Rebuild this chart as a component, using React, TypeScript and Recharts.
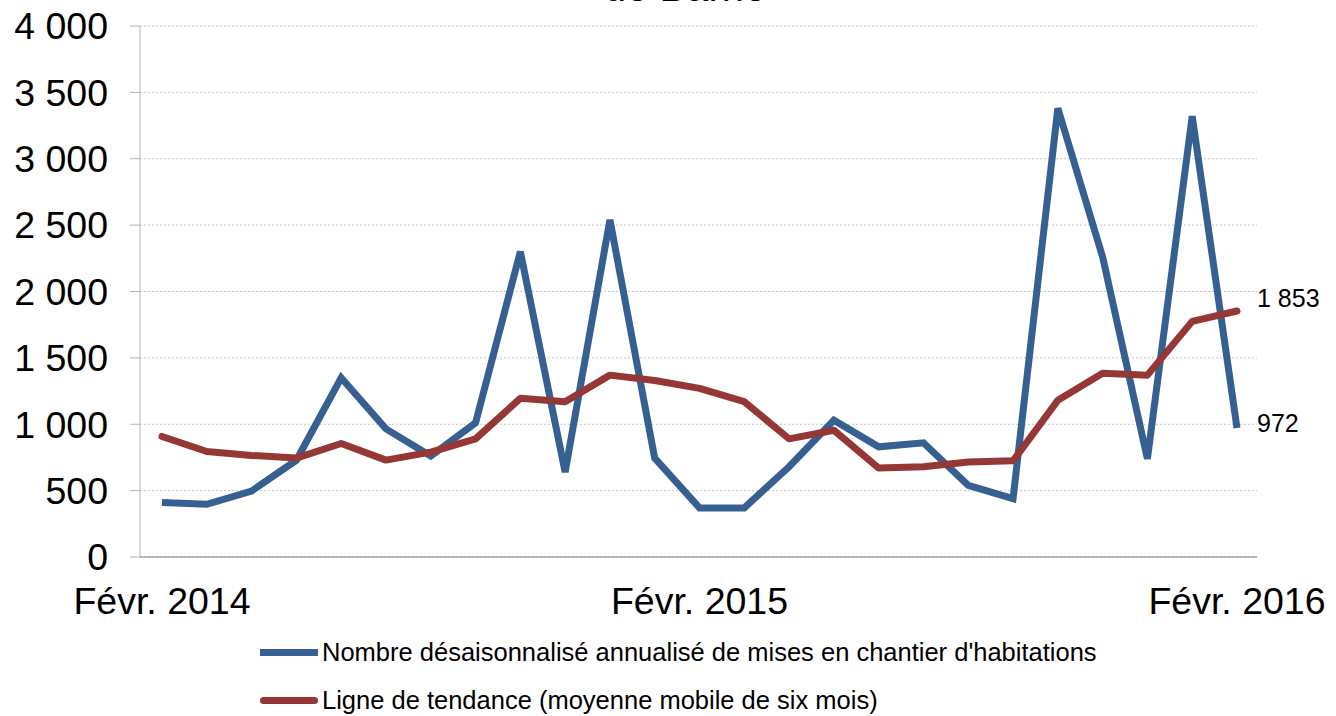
import React from "react";
import { CartesianGrid, LabelList, Line, LineChart, XAxis, YAxis } from "recharts";

const months = [
  "Févr. 2014", "Mars 2014", "Avr. 2014", "Mai 2014", "Juin 2014", "Juil. 2014", "Août 2014",
  "Sept. 2014", "Oct. 2014", "Nov. 2014", "Déc. 2014", "Janv. 2015",
  "Févr. 2015", "Mars 2015", "Avr. 2015", "Mai 2015", "Juin 2015", "Juil. 2015", "Août 2015",
  "Sept. 2015", "Oct. 2015", "Nov. 2015", "Déc. 2015", "Janv. 2016", "Févr. 2016",
];

// mises en chantier désaisonnalisées annualisées
const starts = [
  410, 397, 497, 729, 1350, 965, 760, 1010, 2300, 640, 2540, 745,
  370, 370, 680, 1030, 830, 860, 540, 440, 3380, 2260, 740, 3320, 972,
];

// moyenne mobile de six mois
const trend = [
  908, 795, 765, 745, 855, 730, 790, 890, 1195, 1170, 1370, 1330,
  1270, 1170, 890, 955, 670, 680, 715, 725, 1180, 1385, 1370, 1775, 1853,
];

const yTicks = [0, 500, 1000, 1500, 2000, 2500, 3000, 3500, 4000];

const seriesNames = [
  "Nombre désaisonnalisé annualisé de mises en chantier d'habitations",
  "Ligne de tendance (moyenne mobile de six mois)",
];

const BLUE = "#376092";
const RED = "#953735";
const FONT = "'Liberation Sans', Arial, sans-serif";

const data = months.map((m, i) => ({ month: m, starts: starts[i], trend: trend[i] }));

const fmt = (n: number) =>
  n >= 1000 ? `${Math.floor(n / 1000)} ${String(n % 1000).padStart(3, "0")}` : String(n);

const lastLabel = (dy: number) => (props: any) => {
  const { x, y, value, index } = props;
  if (index !== data.length - 1) return null;
  return (
    <text x={x + 20} y={y + dy} dominantBaseline="central" fontSize={25} fontFamily={FONT} fill="#000">
      {fmt(value)}
    </text>
  );
};

export default function App() {
  return (
    <div style={{ position: "absolute", left: 0, top: 0, width: 1336, height: 716, overflow: "hidden", fontFamily: FONT, background: "#fff" }}>
      <div style={{ position: "absolute", left: 0, width: 1370, top: -33, textAlign: "center", fontSize: 40, lineHeight: "40px" }}>
        de Barrie
      </div>
      <LineChart width={1336} height={716} data={data} margin={{ top: 26, right: 79, left: 0, bottom: 99 }}>
        <CartesianGrid vertical={false} stroke="#c4c4c4" strokeDasharray="2 2" />
        <XAxis
          dataKey="month"
          interval={11}
          padding={{ left: 22, right: 20 }}
          tickLine={false}
          tickSize={0}
          tickMargin={30}
          height={60}
          stroke="#7f7f7f"
          tick={{ fontSize: 37.5, fill: "#000", fontFamily: FONT }}
        />
        <YAxis
          domain={[0, 4000]}
          ticks={yTicks}
          width={140}
          tickSize={10}
          tickMargin={22}
          stroke="#b3b3b3"
          tickFormatter={fmt}
          tick={{ fontSize: 37.5, fill: "#000", fontFamily: FONT }}
        />
        <Line
          dataKey="starts"
          stroke={BLUE}
          strokeWidth={7}
          strokeLinecap="butt"
          strokeLinejoin="miter"
          dot={false}
          type="linear"
          isAnimationActive={false}
        >
          <LabelList dataKey="starts" content={lastLabel(-5)} />
        </Line>
        <Line
          dataKey="trend"
          stroke={RED}
          strokeWidth={7}
          strokeLinecap="round"
          strokeLinejoin="round"
          dot={false}
          type="linear"
          isAnimationActive={false}
        >
          <LabelList dataKey="trend" content={lastLabel(-13)} />
        </Line>
      </LineChart>
      {seriesNames.map((name, i) => (
        <div key={name} style={{ position: "absolute", left: 260, top: 652 + i * 48 - 15, height: 30, display: "flex", alignItems: "center", fontSize: 25.5 }}>
          <span style={{ display: "inline-block", width: 58, height: 7, borderRadius: i === 1 ? 3.5 : 0, background: i === 0 ? BLUE : RED, marginRight: 4 }} />
          <span>{name}</span>
        </div>
      ))}
    </div>
  );
}
